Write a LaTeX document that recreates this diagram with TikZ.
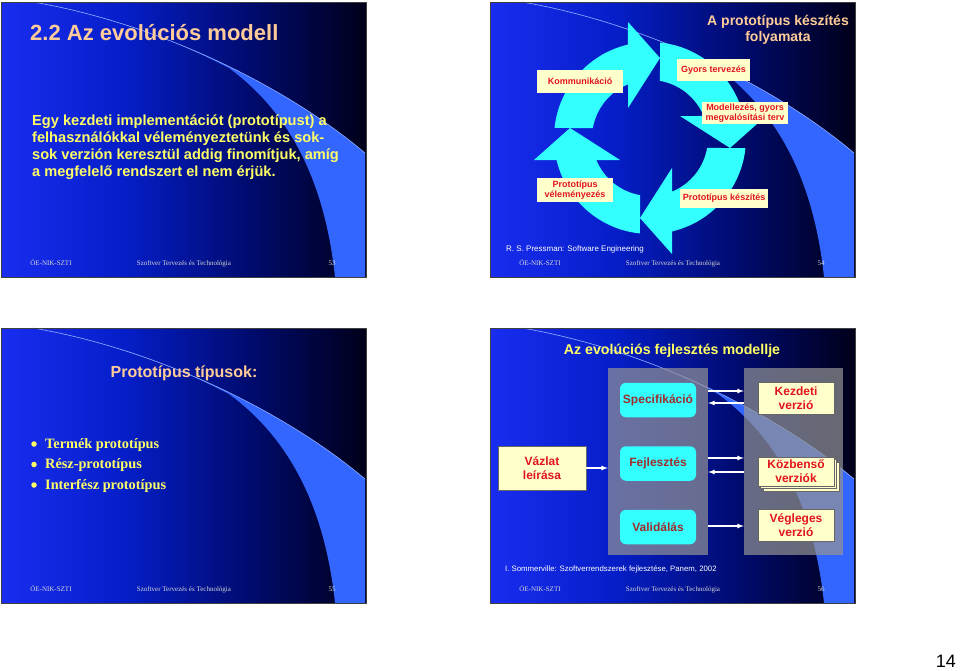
\documentclass[tikz,border=0pt]{standalone}
\usepackage{fontspec}
\setmainfont{Liberation Sans}
\newfontfamily\timesfont{Liberation Serif}
\usetikzlibrary{arrows.meta, positioning}
\definecolor{slA}{RGB}{25,45,240}
\definecolor{slB}{RGB}{5,30,200}
\definecolor{slC}{RGB}{0,10,105}
\definecolor{slD}{RGB}{0,0,25}
\definecolor{swooshblue}{RGB}{51,102,255}
\definecolor{peach}{RGB}{255,204,153}
\definecolor{lemon}{RGB}{255,255,102}
\definecolor{cream}{RGB}{255,255,204}
\definecolor{aqua}{RGB}{51,255,255}
\definecolor{boxred}{RGB}{225,20,30}
\definecolor{brownred}{RGB}{160,45,45}
\definecolor{footgray}{RGB}{215,215,215}
\definecolor{panelgray}{RGB}{148,148,148}
\pgfdeclarehorizontalshading{slideshade}{100bp}{color(0bp)=(slA); color(25bp)=(slA); color(42bp)=(slB); color(60bp)=(slC); color(75bp)=(slD); color(100bp)=(slD)}
\tikzstyle{foot} = [text=footgray, font=\timesfont\fontsize{7}{8}\selectfont, anchor=base, inner sep=0pt]
\tikzstyle{slideframe} = [draw=black!75, line width=1pt]
\tikzstyle{swooshline} = [draw=swooshblue!55!white, line width=0.6pt]
\tikzstyle{cyclabel} = [fill=cream, text=boxred, font=\bfseries\fontsize{9}{10}\selectfont, align=center, inner sep=0pt]
\tikzstyle{panel} = [fill=panelgray, fill opacity=0.7, inner sep=0pt]
\tikzstyle{stage} = [fill=aqua, rounded corners=6pt, text=brownred, font=\bfseries\fontsize{12}{14}\selectfont, minimum width=76pt, minimum height=34.5pt, inner sep=0pt]
\tikzstyle{version} = [fill=cream, draw=black!60, line width=0.6pt, text=boxred, font=\bfseries\fontsize{12}{14}\selectfont, align=center, minimum width=76pt, minimum height=31.5pt, inner sep=0pt]
\tikzstyle{warrow} = [draw=white, line width=1.2pt, ->]
\tikzstyle{bullet} = [circle, fill=lemon, inner sep=0pt, minimum size=5.5pt]
\newcommand{\slideback}[3]{%
  \begin{scope}[shift={(#1,#2)}]
    \shade[shading=slideshade] (0,0) rectangle (365,275);
    \fill[swooshblue] (32,0) .. controls (150,20) and (280,80) .. (364,151) -- (364,275) -- (334,275)
      .. controls (325,190) and (295,115) .. (228,66) .. controls (170,36) and (110,14) .. (32,0) -- cycle;
    \draw[swooshline] (32,0) .. controls (150,20) and (280,80) .. (364,151);
    \draw[slideframe] (0,0) rectangle (365,275);
    \node[foot] (oe#3) at (50,263) {ÓE-NIK-SZTI};
    \node[foot] (szt#3) at (183,263) {Szoftver Tervezés és Technológia};
    \node[foot] (num#3) at (331,263) {#3};
  \end{scope}}

\begin{document}
\begin{tikzpicture}[x=1pt, y=-1pt, >=latex]
  \useasboundingbox (0,0) rectangle (960,670);
  \fill[white] (0,0) rectangle (960,670);

  \slideback{1}{2}{53}
  \node[anchor=base west, inner sep=0pt, text=peach, font=\bfseries\fontsize{22}{26}\selectfont] (title53) at (30,40) {2.2 Az evolúciós modell};
  \node[anchor=base west, inner sep=0pt, align=left, text=lemon, font=\bfseries\fontsize{14.6}{17}\selectfont] (body53) at (32,176)
    {Egy kezdeti implementációt (prototípust) a\\felhasználókkal véleményeztetünk és sok-\\sok verzión keresztül addig finomítjuk, amíg\\a megfelelő rendszert el nem érjük.};

  \slideback{490}{2}{54}
  \node[anchor=base, align=center, inner sep=0pt, text=peach, font=\bfseries\fontsize{14}{16}\selectfont] (title54) at (778,41) {A prototípus készítés\\folyamata};
  \begin{scope}[shift={(650,138)}]
    \foreach \r in {0,90,180,270}
      \fill[aqua, rotate=-\r] (186:96) arc[start angle=186, end angle=256.7, radius=96] -- (-22,-116) -- (10,-80) -- (-22,-30)
        -- (247.7:58) arc[start angle=247.7, end angle=189.9, radius=58] -- cycle;
  \end{scope}
  \node[cyclabel, minimum width=86pt, minimum height=23pt] (komm) at (580,81.5) {Kommunikáció};
  \node[cyclabel, minimum width=73pt, minimum height=22pt] (gyors) at (713.5,70) {Gyors tervezés};
  \node[cyclabel, minimum width=86pt, minimum height=22pt] (model) at (745,113) {Modellezés, gyors\\megvalósítási terv};
  \node[cyclabel, minimum width=88pt, minimum height=19pt] (keszit) at (724,198) {Prototípus készítés};
  \node[cyclabel, minimum width=76pt, minimum height=24pt] (velem) at (575,190) {Prototípus\\véleményezés};
  \node[anchor=base west, inner sep=0pt, text=white, font=\fontsize{8}{9.6}\selectfont] (ref54) at (506,251) {R. S. Pressman: Software Engineering};

  \slideback{1}{328}{55}
  \node[anchor=base, inner sep=0pt, text=peach, font=\bfseries\fontsize{16}{19}\selectfont] (title55) at (184,377) {Prototípus típusok:};
  \foreach \t [count=\i] in {Termék prototípus, Rész-prototípus, Interfész prototípus} {
    \node[bullet] (dot\i) at (34,423.5+20.5*\i) {};
    \node[anchor=base west, inner sep=0pt, text=lemon, font=\timesfont\bfseries\fontsize{14.3}{17}\selectfont] (typ\i) at (45,427.5+20.5*\i) {\t};
  }

  \slideback{490}{328}{56}
  \node[anchor=base, inner sep=0pt, text=lemon, font=\bfseries\fontsize{14.2}{17}\selectfont] (title56) at (672,354) {Az evolúciós fejlesztés modellje};
  \node[panel, minimum width=100pt, minimum height=187pt] (panA) at (658,461.5) {};
  \node[panel, minimum width=99pt, minimum height=187pt] (panB) at (793.5,461.5) {};
  \node[stage] (spec) at (658,400) {Specifikáció};
  \node[stage] (fejl) at (658,463.5) {Fejlesztés};
  \node[stage] (valid) at (658,527) {Validálás};
  \node[version] (kezd) at (796,398.5) {Kezdeti\\verzió};
  \node[version, minimum height=29pt] (kozbB) at (801,476.5) {};
  \node[version, minimum height=29pt] (kozbA) at (798.5,474) {};
  \node[version, minimum height=29pt] (kozb) at (796,471.5) {Közbenső\\verziók};
  \node[version] (veg) at (796,525.5) {Végleges\\verzió};
  \node[version, minimum width=88pt, minimum height=44pt] (vazlat) at (542,468) {Vázlat\\leírása};
  \draw[warrow] (vazlat.east) -- (vazlat.east -| panA.west);
  \draw[warrow] (panA.east |- 0,391) -- (panB.west |- 0,391);
  \draw[warrow] (panB.west |- 0,403) -- (panA.east |- 0,403);
  \draw[warrow] (panA.east |- 0,458) -- (panB.west |- 0,458);
  \draw[warrow] (panB.west |- 0,472) -- (panA.east |- 0,472);
  \draw[warrow] (panA.east |- 0,526) -- (panB.west |- 0,526);
  \node[anchor=base west, inner sep=0pt, text=white, font=\fontsize{7.8}{9.4}\selectfont] (ref56) at (505,571) {I. Sommerville: Szoftverrendszerek fejlesztése, Panem, 2002};

  \node[anchor=base east, inner sep=0pt, font=\fontsize{18}{20}\selectfont] (pageno) at (956,667) {14};
\end{tikzpicture}
\end{document}
